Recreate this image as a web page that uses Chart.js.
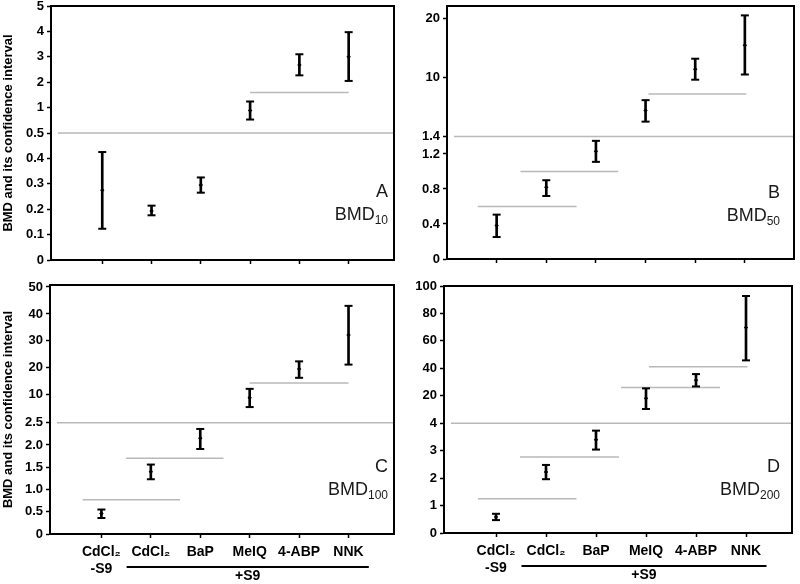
<!DOCTYPE html>
<html lang="en">
<head>
  <meta charset="UTF-8" />
  <title>BMD and its confidence interval</title>
  <style>
  body {
    margin: 0;
    background: #fff;
    font-family: "Liberation Sans", Arial, sans-serif;
  }
  #wrap {
    position: relative;
    width: 800px;
    height: 584px;
    overflow: hidden;
  }
  canvas { position: absolute; }
  .tag {
    position: absolute;
    text-align: right;
    font-size: 18px;
    line-height: 23px;
    color: #1a1a1a;
  }
  .tag sub { font-size: 12px; vertical-align: -4px; line-height: 0; }
  </style>
  <script src="https://cdn.jsdelivr.net/npm/chart.js"></script>
</head>
<body>
  <div id="wrap">
    <canvas id="cA" width="400" height="270" style="left:0;top:0"></canvas>
    <canvas id="cB" width="400" height="270" style="left:400px;top:0"></canvas>
    <canvas id="cC" width="400" height="309" style="left:0;top:275px"></canvas>
    <canvas id="cD" width="400" height="309" style="left:400px;top:275px"></canvas>
    <div class="tag" style="right:412px;top:180px">A<br>BMD<sub>10</sub></div>
    <div class="tag" style="right:20px;top:181px">B<br>BMD<sub>50</sub></div>
    <div class="tag" style="right:412px;top:455px">C<br>BMD<sub>100</sub></div>
    <div class="tag" style="right:20px;top:455px">D<br>BMD<sub>200</sub></div>
  </div>

  <script>
  const categories = [['CdCl₂', '-S9'], 'CdCl₂', 'BaP', 'MeIQ', '4-ABP', 'NNK'];
  const xPos = [1, 2, 3, 4, 5, 6];

  // A: BMD10
  const bmd10 = [0.275, 0.193, 0.295, 0.944, 2.68, 3.0];
  const bmd10Low = [0.123, 0.176, 0.265, 0.765, 2.27, 2.05];
  const bmd10High = [0.425, 0.214, 0.325, 1.24, 3.1, 3.97];
  const bmd10Groups = [[4.0, 6.0, 1.59]];
  const ticks10 = [0, 0.1, 0.2, 0.3, 0.4, 0.5, 1, 2, 3, 4, 5];
  const labels10 = ['0', '0.1', '0.2', '0.3', '0.4', '0.5', '1', '2', '3', '4', '5'];

  // B: BMD50
  const bmd50 = [0.383, 0.82, 1.23, 5.2, 11.4, 15.5];
  const bmd50Low = [0.251, 0.72, 1.11, 3.56, 9.67, 10.5];
  const bmd50High = [0.507, 0.90, 1.35, 6.69, 13.2, 20.6];
  const bmd50Groups = [[0.62, 2.61, 0.60], [1.48, 3.45, 1.0], [4.06, 6.03, 7.6]];
  const ticks50 = [0, 0.4, 0.8, 1.2, 1.4, 10, 20];
  const labels50 = ['0', '0.4', '0.8', '1.2', '1.4', '10', '20'];

  // C: BMD100
  const bmd100 = [0.46, 1.40, 2.15, 9.2, 19.6, 32.2];
  const bmd100Low = [0.36, 1.23, 1.91, 6.7, 16.3, 21.2];
  const bmd100High = [0.55, 1.56, 2.36, 12.2, 22.4, 43];
  const bmd100Groups = [[0.62, 2.59, 0.77], [1.5, 3.47, 1.70], [4.0, 6.0, 14.4]];
  const ticks100 = [0, 0.5, 1, 1.5, 2, 2.5, 10, 20, 30, 40, 50];
  const labels100 = ['0', '0.5', '1.0', '1.5', '2.0', '2.5', '10', '20', '30', '40', '50'];

  // D: BMD200
  const bmd200 = [0.58, 2.22, 3.4, 18.5, 31.4, 69.7];
  const bmd200Low = [0.47, 1.96, 3.04, 12.3, 26.8, 45.8];
  const bmd200High = [0.7, 2.48, 3.73, 25.4, 35.8, 92.7];
  const bmd200Groups = [[0.64, 2.61, 1.25], [1.48, 3.46, 2.77], [3.5, 5.48, 26.1], [4.06, 6.03, 41.2]];
  const ticks200 = [0, 1, 2, 3, 4, 20, 40, 60, 80, 100];
  const labels200 = ['0', '1', '2', '3', '4', '20', '40', '60', '80', '100'];

  const yTitle = 'BMD and its confidence interval';
  const fontFamily = '"Liberation Sans", Arial, sans-serif';
  const tickFont = { family: fontFamily, size: 13, weight: 'bold' };
  const catFont = { family: fontFamily, size: 14, weight: 'bold' };

  // draws the box round the plot
  const frame = {
    id: 'frame',
    afterDraw(chart) {
      const { ctx, chartArea: a } = chart;
      ctx.save();
      ctx.strokeStyle = '#000';
      ctx.lineWidth = 2;
      ctx.strokeRect(a.left, a.top, a.width, a.height);
      ctx.restore();
    }
  };

  // underline and "+S9" below the bottom row labels
  const s9 = {
    id: 's9',
    afterDraw(chart) {
      const { ctx, chartArea: a } = chart;
      const x = chart.scales.x;
      ctx.save();
      ctx.strokeStyle = '#000';
      ctx.lineWidth = 2;
      ctx.beginPath();
      ctx.moveTo(x.getPixelForValue(1.51), a.bottom + 33);
      ctx.lineTo(x.getPixelForValue(6.41), a.bottom + 33);
      ctx.stroke();
      ctx.fillStyle = '#000';
      ctx.font = 'bold 14px ' + fontFamily;
      ctx.textAlign = 'center';
      ctx.textBaseline = 'middle';
      ctx.fillText('+S9', x.getPixelForValue(3.96), a.bottom + 42);
      ctx.restore();
    }
  };

  function makePanel(p) {
    const { vals, pos } = p.breaks;
    const toPos = v => {
      for (let i = 1; i < vals.length; i++) {
        if (v <= vals[i] || i === vals.length - 1) {
          return pos[i - 1] + (v - vals[i - 1]) / (vals[i] - vals[i - 1]) * (pos[i] - pos[i - 1]);
        }
      }
    };

    const bars = xPos.map((x, i) => ({ x, y: [toPos(p.low[i]), toPos(p.high[i])] }));
    const caps = xPos.flatMap((x, i) => [{ x, y: toPos(p.low[i]) }, { x, y: toPos(p.high[i]) }]);
    const mids = xPos.map((x, i) => ({ x, y: toPos(p.mid[i]) }));

    const datasets = [
      { type: 'scatter', data: mids, pointStyle: 'rectRot', pointRadius: 2.2,
        backgroundColor: '#000', borderColor: '#000', borderWidth: 0 },
      { type: 'scatter', data: caps, pointStyle: 'line', pointRadius: 4,
        borderColor: '#000', borderWidth: 2 },
      { type: 'bar', data: bars, backgroundColor: '#000', barThickness: 2 }
    ];
    p.groups.forEach(g => {
      datasets.push({ type: 'line', data: [{ x: g[0], y: toPos(g[2]) }, { x: g[1], y: toPos(g[2]) }],
        borderColor: '#b9b9b9', borderWidth: 1.5, pointRadius: 0 });
    });
    // axis break line
    datasets.push({ type: 'line', data: [{ x: p.xMin + 0.14, y: toPos(p.cut) }, { x: p.xMax, y: toPos(p.cut) }],
      borderColor: '#b9b9b9', borderWidth: 1.5, pointRadius: 0 });

    new Chart(document.getElementById(p.id), {
      type: 'bar',
      data: { datasets },
      plugins: p.bottom ? [frame, s9] : [frame],
      options: {
        responsive: false,
        animation: false,
        events: [],
        layout: { padding: { top: p.padTop, right: p.padRight, left: 0, bottom: 0 } },
        plugins: { legend: { display: false }, tooltip: { enabled: false } },
        scales: {
          x: {
            type: 'linear',
            offset: false,
            min: p.xMin,
            max: p.xMax,
            grid: { offset: false, drawOnChartArea: false, tickLength: 4, tickColor: '#000', tickWidth: 1.5 },
            border: { color: '#000', width: 2 },
            afterBuildTicks: s => { s.ticks = xPos.map(v => ({ value: v })); },
            afterFit: s => { s.height = p.xH; s.paddingLeft = 0; s.paddingRight = 0; },
            ticks: {
              autoSkip: false,
              maxRotation: 0,
              padding: 6,
              color: '#000',
              font: catFont,
              callback: (v, i) => p.bottom ? categories[i] : ''
            }
          },
          y: {
            type: 'linear',
            min: 0,
            max: p.breaks.top,
            grid: { drawOnChartArea: false, tickLength: 4, tickColor: '#000', tickWidth: 1.5 },
            border: { color: '#000', width: 2 },
            afterBuildTicks: s => { s.ticks = p.ticks.map(v => ({ value: toPos(v) })); },
            afterFit: s => { s.width = p.yW; s.paddingTop = 0; s.paddingBottom = 0; },
            ticks: {
              autoSkip: false,
              padding: 3,
              color: '#000',
              font: tickFont,
              callback: (v, i) => p.labels[i]
            },
            title: {
              display: p.title,
              text: yTitle,
              color: '#000',
              padding: { top: 1, bottom: 0 },
              font: { family: fontFamily, size: 13, weight: 'bold' }
            }
          }
        }
      }
    });
  }

  makePanel({
    id: 'cA', mid: bmd10, low: bmd10Low, high: bmd10High, groups: bmd10Groups,
    ticks: ticks10, labels: labels10, cut: 0.5,
    breaks: { vals: [0, 0.5, 1, 2, 3, 4, 5], pos: [0, 5, 6, 7, 8, 9, 10], top: 10 },
    xMin: -0.04, xMax: 6.92, yW: 51, xH: 10, padTop: 4, padRight: 2, title: true, bottom: false
  });
  makePanel({
    id: 'cB', mid: bmd50, low: bmd50Low, high: bmd50High, groups: bmd50Groups,
    ticks: ticks50, labels: labels50, cut: 1.4,
    breaks: { vals: [0, 1.4, 10, 20], pos: [0, 123.5, 183, 242], top: 255 },
    xMin: 0, xMax: 6.99, yW: 47, xH: 11, padTop: 4, padRight: 5, title: false, bottom: false
  });
  makePanel({
    id: 'cC', mid: bmd100, low: bmd100Low, high: bmd100High, groups: bmd100Groups,
    ticks: ticks100, labels: labels100, cut: 2.5,
    breaks: { vals: [0, 2.5, 10, 20, 30, 40, 50], pos: [0, 111.5, 139.5, 166.5, 193.5, 220.5, 247.5], top: 249.5 },
    xMin: -0.04, xMax: 6.92, yW: 50, xH: 50, padTop: 10, padRight: 2, title: true, bottom: true
  });
  makePanel({
    id: 'cD', mid: bmd200, low: bmd200Low, high: bmd200High, groups: bmd200Groups,
    ticks: ticks200, labels: labels200, cut: 4,
    breaks: { vals: ticks200, pos: [0, 1, 2, 3, 4, 5, 6, 7, 8, 9], top: 9 },
    xMin: -0.04, xMax: 6.92, yW: 44, xH: 51, padTop: 11, padRight: 8, title: false, bottom: true
  });
  </script>
</body>
</html>
